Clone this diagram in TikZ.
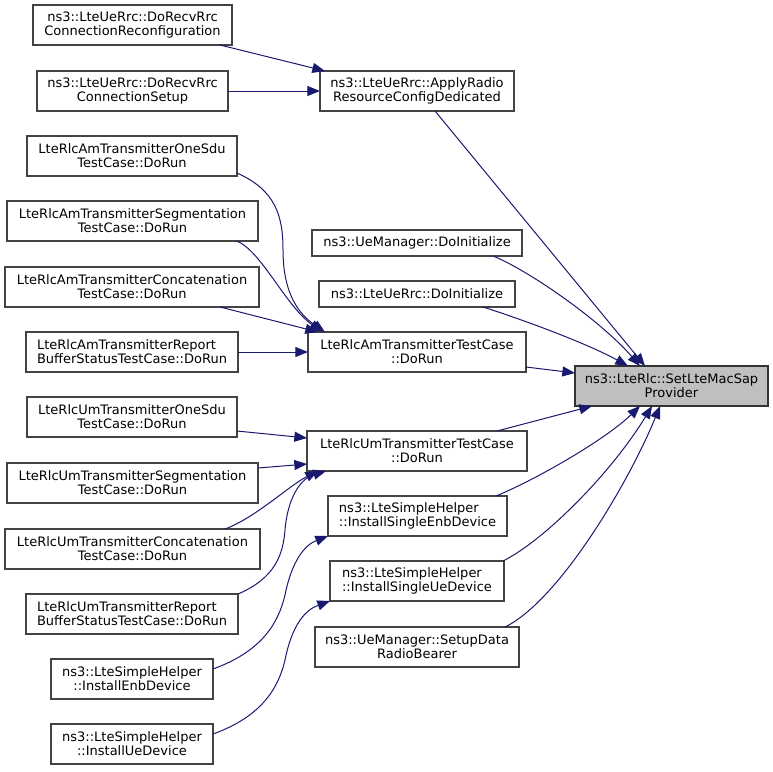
\documentclass[tikz,border=0pt]{standalone}
\usepackage{fontspec}
\setmainfont{DejaVu Sans}
\usetikzlibrary{arrows.meta,calc}
\definecolor{edgeblue}{HTML}{191970}
\definecolor{boxline}{HTML}{444444}
\definecolor{hilite}{HTML}{BFBFBF}
\tikzset{
  box/.style={draw=boxline, fill=white, line width=0.8pt, inner sep=0pt, outer sep=0pt,
    align=center, minimum height=30pt, font=\fontsize{9.75pt}{10.5pt}\selectfont, minimum width=#1*0.75pt},
  lbox/.style={box=#1, align=left},
  sbox/.style={box=#1, minimum height=19.5pt},
  edge/.style={draw=edgeblue, line width=0.75pt, -{Triangle[length=9.5pt,width=7.5pt]}}
}
\begin{document}
\begin{tikzpicture}[x=0.75pt, y=-0.75pt]
\useasboundingbox (0,0) rectangle (773,771);
% column 1
\node[box=199] (rec) at (132.5,25) {ns3::LteUeRrc::DoRecvRrc\\ConnectionReconfiguration};
\node[box=191] (setup) at (132.5,91) {ns3::LteUeRrc::DoRecvRrc\\ConnectionSetup};
\node[box=210] (amone) at (132,156) {LteRlcAmTransmitterOneSdu\\TestCase::DoRun};
\node[box=251] (amseg) at (132.5,221) {LteRlcAmTransmitterSegmentation\\TestCase::DoRun};
\node[box=254] (amcon) at (132,287) {LteRlcAmTransmitterConcatenation\\TestCase::DoRun};
\node[lbox=212] (amrep) at (132,352) {LteRlcAmTransmitterReport\\BufferStatusTestCase::DoRun};
\node[box=210] (umone) at (132,417) {LteRlcUmTransmitterOneSdu\\TestCase::DoRun};
\node[box=251] (umseg) at (132.5,483) {LteRlcUmTransmitterSegmentation\\TestCase::DoRun};
\node[box=255] (umcon) at (132.5,549) {LteRlcUmTransmitterConcatenation\\TestCase::DoRun};
\node[lbox=212] (umrep) at (132,614) {LteRlcUmTransmitterReport\\BufferStatusTestCase::DoRun};
\node[box=162] (ienb) at (132,679) {ns3::LteSimpleHelper\\::InstallEnbDevice};
\node[box=162] (iue) at (132,744) {ns3::LteSimpleHelper\\::InstallUeDevice};
% column 2
\node[box=194] (apply) at (417,91) {ns3::LteUeRrc::ApplyRadio\\ResourceConfigDedicated};
\node[sbox=210] (uemdo) at (417,243) {ns3::UeManager::DoInitialize};
\node[sbox=196] (rrcdo) at (417,294) {ns3::LteUeRrc::DoInitialize};
\node[box=218] (amtc) at (417,352) {LteRlcAmTransmitterTestCase\\::DoRun};
\node[box=220] (umtc) at (417,451) {LteRlcUmTransmitterTestCase\\::DoRun};
\node[lbox=179] (isenb) at (417.5,516) {ns3::LteSimpleHelper\\::InstallSingleEnbDevice};
\node[lbox=174] (isue) at (417,581) {ns3::LteSimpleHelper\\::InstallSingleUeDevice};
\node[box=204] (sdrb) at (417,647) {ns3::UeManager::SetupData\\RadioBearer};
% target
\node[box=193, fill=hilite, draw=black!80] (target) at (671.5,386) {ns3::LteRlc::SetLteMacSap\\Provider};
% edges to apply
\draw[edge] ($(rec.south east)+(-12,0)$) -- ($(apply.north west)+(5,0)$);
\draw[edge] (setup.east) -- (apply.west);
% edges to target
\draw[edge] ($(apply.south)+(18,0)$) -- ($(target.north)+(-26.5,0)$);
\draw[edge] ($(uemdo.south)+(76,0)$) .. controls (528,270) and (600,320) .. ($(target.north)+(-31.5,0)$);
\draw[edge] ($(rrcdo.south)+(66,0)$) .. controls (530,322) and (590,345) .. ($(target.north)+(-43.5,0)$);
\draw[edge] ($(amtc.east)+(0,15)$) -- ($(target.west)+(0,-13)$);
\draw[edge] ($(umtc.north)+(80,0)$) -- ($(target.south)+(-79.5,0)$);
\draw[edge] ($(isenb.north)+(78.5,0)$) .. controls (535,480) and (605,440) .. ($(target.south)+(-31.5,0)$);
\draw[edge] ($(isue.north)+(86,0)$) .. controls (545,540) and (612,472) .. ($(target.south)+(-19.5,0)$);
\draw[edge] ($(sdrb.north)+(88,0)$) .. controls (560,600) and (630,480) .. ($(target.south)+(-11.5,0)$);
% edges to amtc
\draw[edge] ($(amone.south east)+(0,-3)$) .. controls (275,190) and (283,215) .. (283,250) .. controls (283,295) and (300,315) .. ($(amtc.north west)+(17,0)$);
\draw[edge] ($(amseg.south)+(104.5,0)$) .. controls (262,252) and (285,305) .. ($(amtc.north west)+(14,0)$);
\draw[edge] ($(amcon.south)+(88,0)$) -- ($(amtc.north west)+(10,0)$);
\draw[edge] (amrep.east) -- (amtc.west);
% edges to umtc
\draw[edge] ($(umone.east)+(0,14)$) -- ($(umtc.west)+(0,-13)$);
\draw[edge] ($(umseg.east)+(0,-15)$) -- ($(umtc.west)+(0,13)$);
\draw[edge] ($(umcon.north)+(92.5,0)$) .. controls (255,518) and (290,485) .. ($(umtc.south west)+(11,0)$);
\draw[edge] (umrep.north east) .. controls (275,578) and (283,555) .. (285,530) .. controls (288,495) and (302,478) .. ($(umtc.south west)+(19,0)$);
% install edges
\draw[edge] ($(ienb.east)+(0,-10)$) .. controls (260,652) and (278,625) .. (285,595) .. controls (292,560) and (305,545) .. (isenb.south west);
\draw[edge] ($(iue.east)+(0,-10)$) .. controls (260,717) and (278,690) .. (285,660) .. controls (292,625) and (305,610) .. (isue.south west);
\end{tikzpicture}
\end{document}
